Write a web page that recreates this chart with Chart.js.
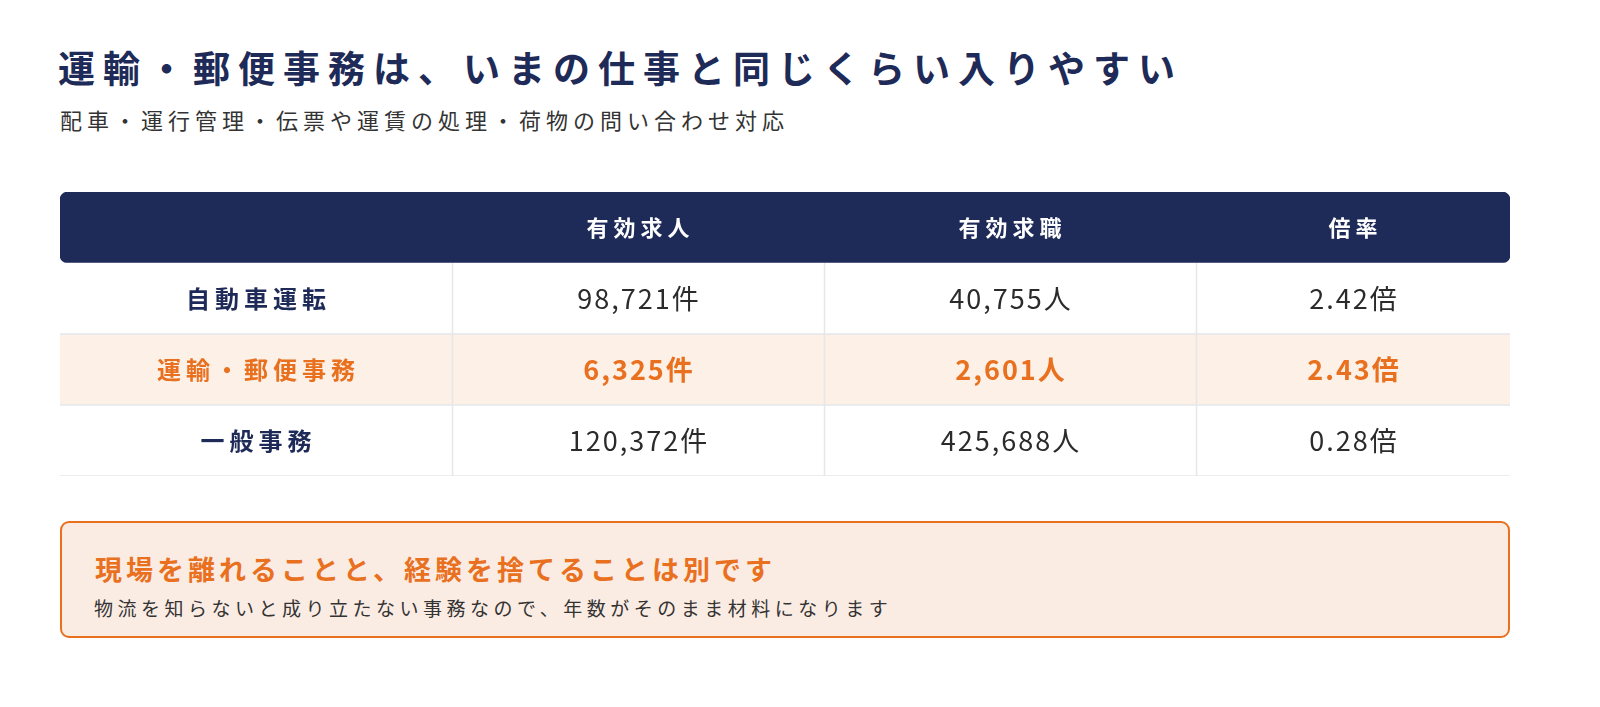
<!DOCTYPE html>
<html><head><meta charset="utf-8">
<script src="https://cdn.jsdelivr.net/npm/chart.js@4"></script>
<style>
body{margin:0;background:#fff;font-family:"Noto Sans CJK JP","Noto Sans",sans-serif;width:1600px;height:707px;position:relative;overflow:hidden}
#t{position:absolute;left:58px;top:40px;font-size:37px;font-weight:700;color:#1e2a57;letter-spacing:8px;white-space:nowrap}
#s{position:absolute;left:60px;top:103px;font-size:22px;color:#333;letter-spacing:5px;white-space:nowrap}
#w{position:absolute;left:60px;top:192px;width:1450px;height:284px}
#c{position:absolute;left:60px;top:521px;width:1446px;height:113px;border:2px solid #e8701f;border-radius:9px;background:#fbece3}
#c1{position:absolute;left:33px;top:26px;font-size:27px;font-weight:700;color:#e8701f;letter-spacing:4px;white-space:nowrap}
#c2{position:absolute;left:32px;top:71px;font-size:19px;color:#333;letter-spacing:4.5px;white-space:nowrap}
</style></head><body>
<div id="t">運輸・郵便事務は、いまの仕事と同じくらい入りやすい</div>
<div id="s">配車・運行管理・伝票や運賃の処理・荷物の問い合わせ対応</div>
<div id="w"><canvas id="cv"></canvas></div>
<div id="c"><div id="c1">現場を離れることと、経験を捨てることは別です</div><div id="c2">物流を知らないと成り立たない事務なので、年数がそのまま材料になります</div></div>
<script>
const headers = ['', '有効求人', '有効求職', '倍率'];
const rows = ['自動車運転', '運輸・郵便事務', '一般事務'];
const openings = ['98,721件', '6,325件', '120,372件'];
const seekers = ['40,755人', '2,601人', '425,688人'];
const ratios = ['2.42倍', '2.43倍', '0.28倍'];
const highlightRow = 1;
const colEdges = [0, 392, 764, 1136, 1450];

const labels = ['header', ...rows];
const bgs = ['#1e2a57', '#ffffff', '#fdf0e6', '#ffffff'];
const textPlugin = {
  id: 'tbl',
  afterDatasetsDraw(ch) {
    const ctx = ch.ctx, x = ch.scales.x, y = ch.scales.y;
    const font = "'Noto Sans CJK JP','Noto Sans',sans-serif";
    const rowH = Math.abs(y.getPixelForValue(1) - y.getPixelForValue(0));
    ctx.save();
    ctx.strokeStyle = '#e5e7eb'; ctx.lineWidth = 1.5;
    for (let r = 1; r < labels.length; r++) {
      const yc = y.getPixelForValue(r);
      ctx.beginPath(); ctx.moveTo(x.left, yc + rowH / 2); ctx.lineTo(x.right, yc + rowH / 2); ctx.stroke();
      for (let c = 1; c < 4; c++) {
        const xp = Math.round(x.getPixelForValue(colEdges[c])) + 0.5;
        ctx.beginPath(); ctx.moveTo(xp, yc - rowH / 2); ctx.lineTo(xp, yc + rowH / 2); ctx.stroke();
      }
    }
    ctx.textAlign = 'center'; ctx.textBaseline = 'middle';
    const cx = c => (x.getPixelForValue(colEdges[c]) + x.getPixelForValue(colEdges[c + 1])) / 2;
    const txt = (s, px, py, sp) => { ctx.letterSpacing = sp + 'px'; ctx.fillText(s, px + sp / 2, py); };
    ctx.fillStyle = '#fff'; ctx.font = `700 22px ${font}`;
    headers.forEach((h, c) => { if (h) txt(h, cx(c), y.getPixelForValue(0), 5); });
    rows.forEach((r, i) => {
      const yp = y.getPixelForValue(i + 1);
      const hl = i === highlightRow;
      ctx.fillStyle = hl ? '#e8701f' : '#1e2a57';
      ctx.font = `700 24px ${font}`;
      txt(r, cx(0), yp, 5);
      ctx.fillStyle = hl ? '#e8701f' : '#2b2b2b';
      ctx.font = `${hl ? 700 : 400} 27px ${font}`;
      [openings[i], seekers[i], ratios[i]].forEach((v, c) => txt(v, cx(c + 1), yp, 2));
    });
    ctx.restore();
  }
};
new Chart(document.getElementById('cv'), {
  type: 'bar',
  data: { labels, datasets: [{ data: labels.map(() => [colEdges[0], colEdges[4]]), backgroundColor: bgs,
    borderRadius: c => c.dataIndex === 0 ? 8 : 0, borderSkipped: false, barPercentage: 1, categoryPercentage: 1 }] },
  options: {
    indexAxis: 'y', responsive: true, maintainAspectRatio: false, animation: false,
    layout: { padding: 0 },
    plugins: { legend: { display: false }, tooltip: { enabled: false } },
    scales: {
      x: { type: 'linear', min: colEdges[0], max: colEdges[4], display: false },
      y: { type: 'category', display: false, offset: true }
    }
  },
  plugins: [textPlugin]
});
</script>
</body></html>
